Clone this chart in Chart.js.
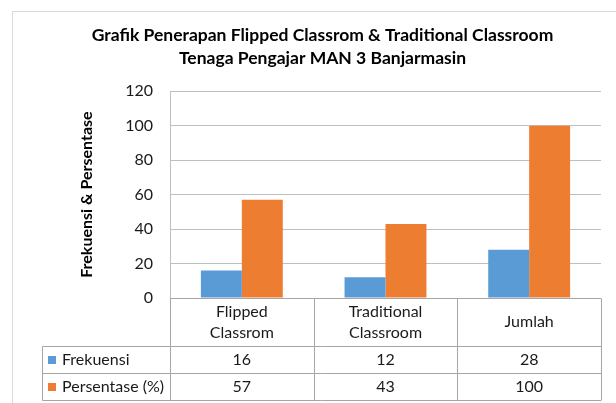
<!DOCTYPE html>
<html>
<head>
<meta charset="utf-8">
<script src="https://cdn.jsdelivr.net/npm/chart.js@4"></script>
<style>
  html, body { margin: 0; padding: 0; background: #fff; }
  canvas { display: block; }
</style>
</head>
<body>
<canvas id="chart" width="616" height="403"></canvas>
<script>
// --- Data ---
const categories = [['Flipped', 'Classrom'], ['Traditional', 'Classroom'], ['Jumlah']];
const seriesNames = ['Frekuensi', 'Persentase (%)'];
const frekuensi = [16, 12, 28];
const persentase = [57, 43, 100];
const yTicks = [0, 20, 40, 60, 80, 100, 120];

const COLORS = {
    blue: '#5B9BD5',
    orange: '#ED7D31',
    grid: '#BFBFBF',
    table: '#A6A6A6',
    frame: '#D9D9D9',
    text: '#1A1A1A'
};
const FONT = 'Lato, "Open Sans", sans-serif';

// frame around the chart (Excel style) + data table under the plot
const tablePlugin = {
    id: 'dataTable',
    beforeDraw(chart) {
        const ctx = chart.ctx;
        ctx.save();
        ctx.strokeStyle = COLORS.frame;
        ctx.lineWidth = 1;
        ctx.strokeRect(12.5, 11.5, 640, 420);
        ctx.restore();
    },
    afterDraw(chart) {
        const ctx = chart.ctx;
        const area = chart.chartArea;
        const n = categories.length;
        const colW = (area.right - area.left) / n;
        const top = area.bottom;
        const headBottom = top + 48;
        const rowH = 27;
        const rows = [headBottom, headBottom + rowH, headBottom + rowH * 2];
        const tableLeft = 42.5;

        ctx.save();
        ctx.strokeStyle = COLORS.table;
        ctx.lineWidth = 1;
        ctx.beginPath();
        // horizontal lines
        ctx.moveTo(area.left, Math.round(top) + 0.5);
        ctx.lineTo(area.right, Math.round(top) + 0.5);
        rows.forEach(y => {
            ctx.moveTo(tableLeft, Math.round(y) + 0.5);
            ctx.lineTo(area.right, Math.round(y) + 0.5);
        });
        // vertical lines
        ctx.moveTo(tableLeft, Math.round(headBottom) + 0.5);
        ctx.lineTo(tableLeft, Math.round(rows[2]) + 0.5);
        for (let i = 0; i <= n; i++) {
            const x = Math.round(area.left + colW * i) + 0.5;
            ctx.moveTo(x, Math.round(top) + 0.5);
            ctx.lineTo(x, Math.round(rows[2]) + 0.5);
        }
        ctx.stroke();

        ctx.fillStyle = COLORS.text;
        ctx.font = '16px ' + FONT;
        ctx.textBaseline = 'middle';
        ctx.textAlign = 'center';
        const xScale = chart.scales.x;
        categories.forEach((lines, i) => {
            const cx = xScale.getPixelForValue(i);
            const cy = (top + headBottom) / 2;
            const lh = 21;
            lines.forEach((t, k) => {
                ctx.fillText(t, cx, cy + (k - (lines.length - 1) / 2) * lh);
            });
        });

        const rowData = [frekuensi, persentase];
        const rowColors = [COLORS.blue, COLORS.orange];
        rowData.forEach((vals, r) => {
            const cy = rows[r] + rowH / 2;
            vals.forEach((v, i) => {
                ctx.textAlign = 'center';
                ctx.fillStyle = COLORS.text;
                ctx.fillText(String(v), xScale.getPixelForValue(i), cy);
            });
            ctx.fillStyle = rowColors[r];
            ctx.fillRect(48, Math.round(cy) - 4, 8, 8);
            ctx.fillStyle = COLORS.text;
            ctx.textAlign = 'left';
            ctx.fillText(seriesNames[r], 62, cy);
        });
        ctx.restore();
    }
};

new Chart(document.getElementById('chart'), {
    type: 'bar',
    data: {
        labels: categories,
        datasets: [
            {
                label: seriesNames[0],
                data: frekuensi,
                backgroundColor: COLORS.blue,
                barPercentage: 1,
                categoryPercentage: 0.57
            },
            {
                label: seriesNames[1],
                data: persentase,
                backgroundColor: COLORS.orange,
                barPercentage: 1,
                categoryPercentage: 0.57
            }
        ]
    },
    options: {
        responsive: false,
        devicePixelRatio: 1,
        animation: false,
        layout: { padding: { left: 44, right: 15, top: 0, bottom: 105 } },
        plugins: {
            legend: { display: false },
            tooltip: { enabled: false },
            title: {
                display: true,
                text: ['Grafik Penerapan Flipped Classrom & Traditional Classroom', 'Tenaga Pengajar MAN 3 Banjarmasin'],
                color: '#000',
                font: { family: FONT, size: 17.5, weight: 'bold', lineHeight: 1.32 },
                padding: { top: 24, bottom: 21 }
            }
        },
        scales: {
            x: {
                ticks: { display: false },
                grid: { display: false, drawTicks: false },
                border: { display: false }
            },
            y: {
                min: 0,
                max: yTicks[yTicks.length - 1],
                afterBuildTicks: (s) => { s.ticks = yTicks.map(v => ({ value: v })); },
                afterFit: (s) => { s.width = 126; },
                ticks: {
                    color: COLORS.text,
                    font: { family: FONT, size: 16 },
                    padding: 17
                },
                grid: { color: COLORS.grid, drawTicks: false },
                border: { display: true, color: COLORS.grid },
                title: {
                    display: true,
                    text: 'Frekuensi & Persentase',
                    color: '#000',
                    font: { family: FONT, size: 16, weight: 'bold', lineHeight: 1.2 },
                    padding: { top: 33, bottom: 0 }
                }
            }
        }
    },
    plugins: [tablePlugin]
});
</script>
</body>
</html>
